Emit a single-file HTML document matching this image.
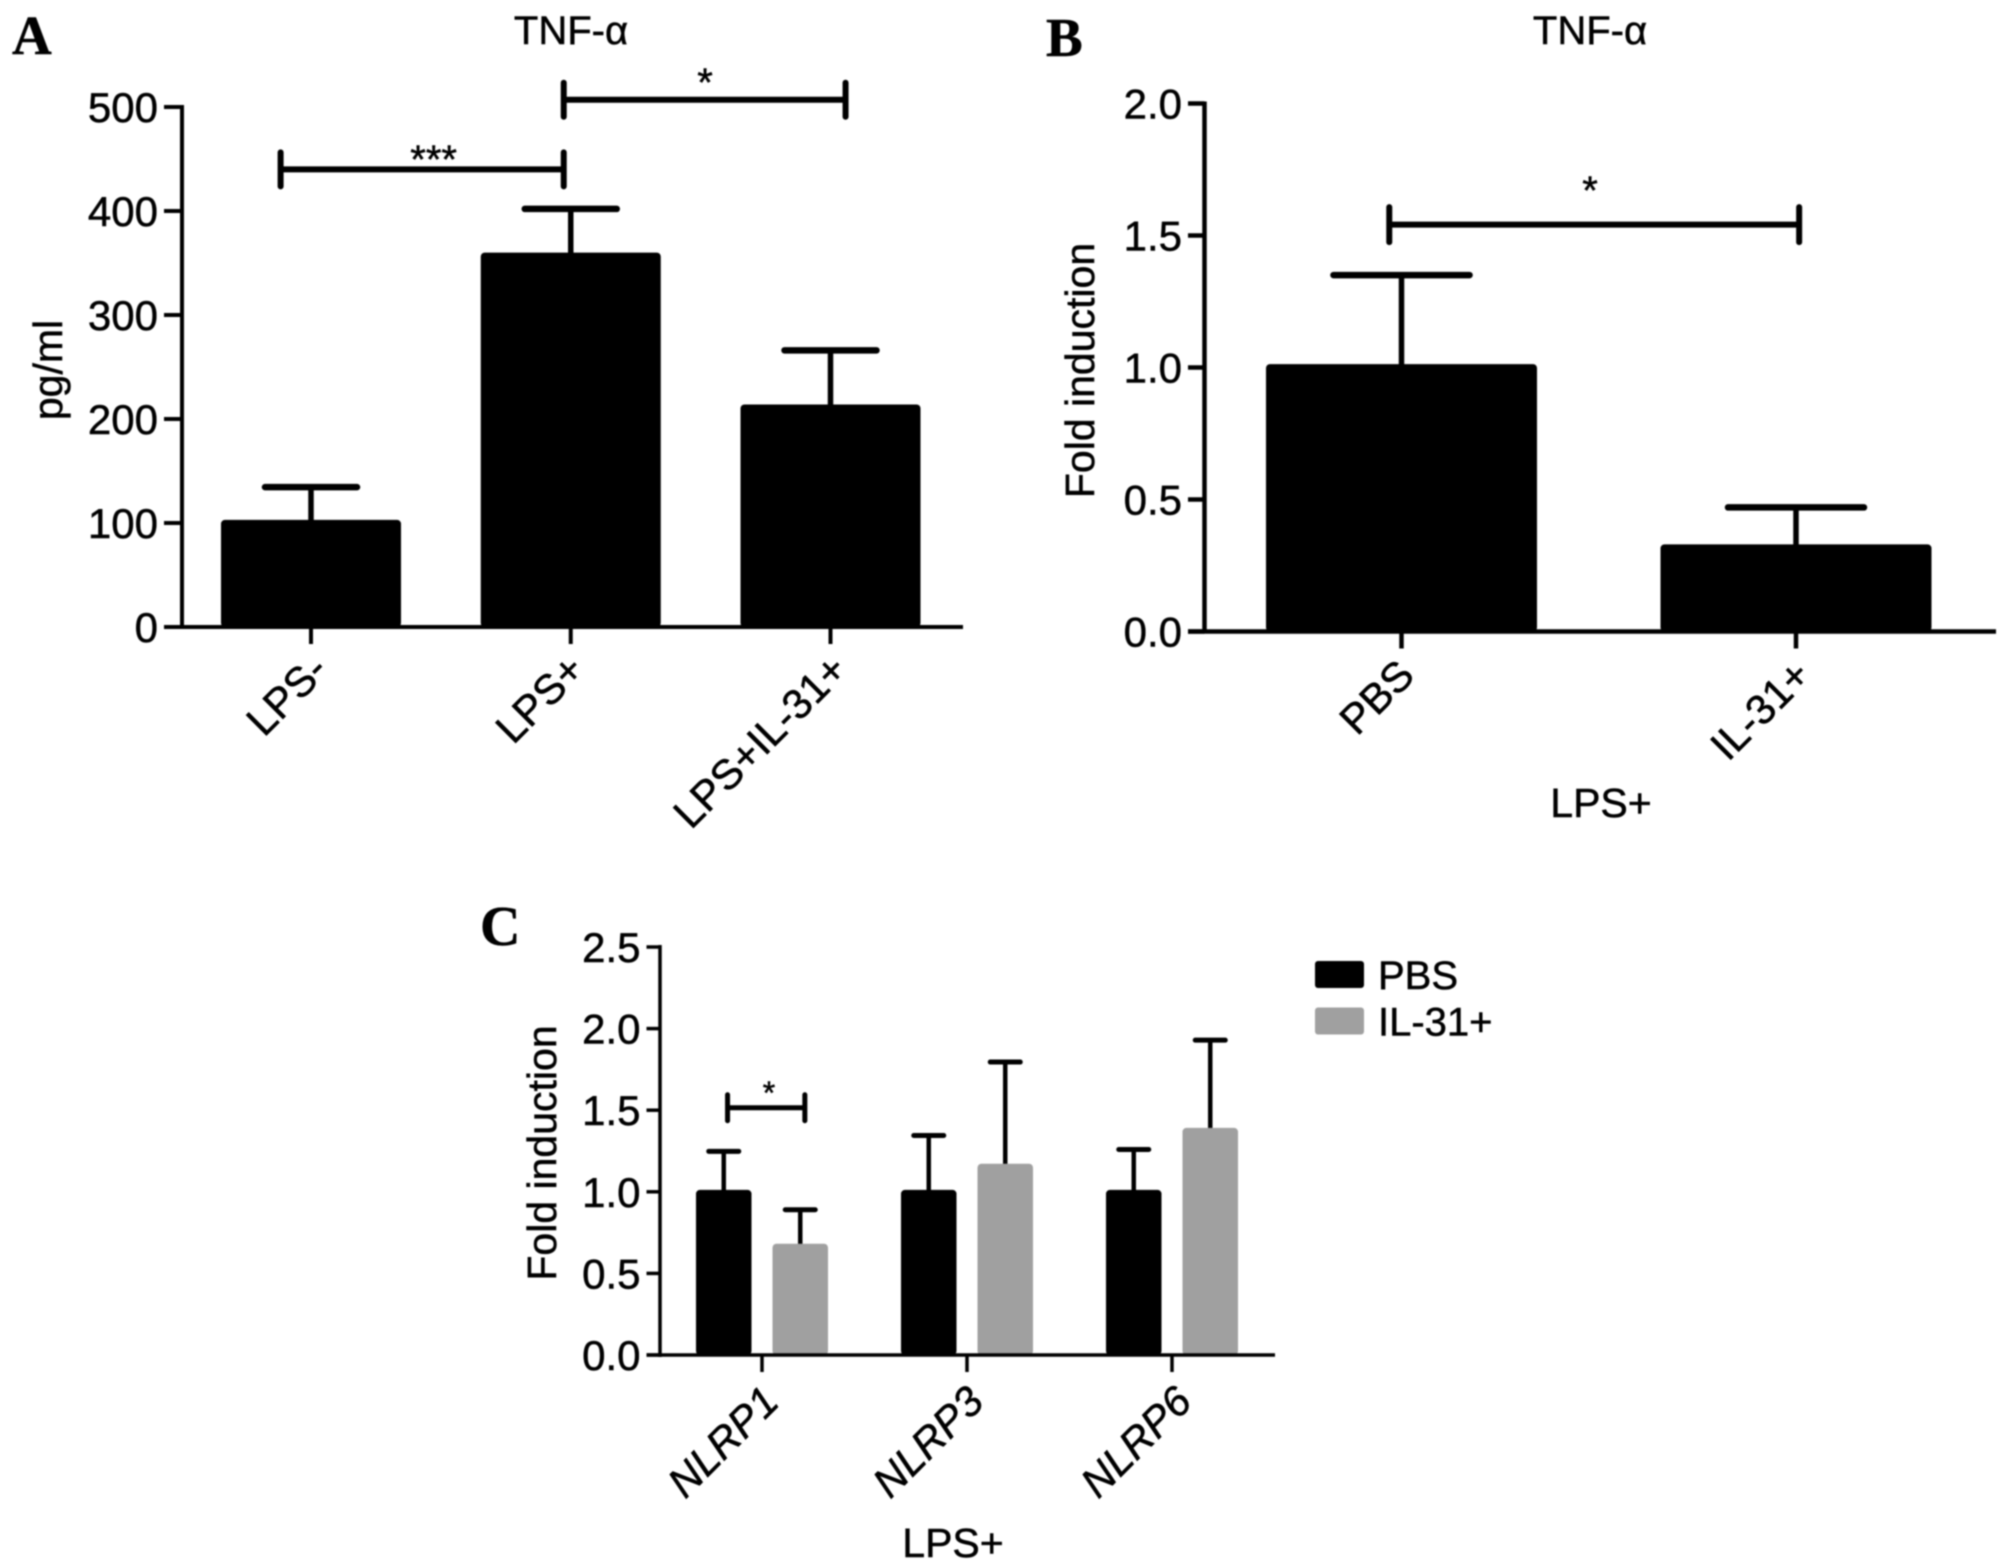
<!DOCTYPE html>
<html lang="en">
<head>
<meta charset="utf-8">
<title>TNF-α and NLRP fold induction bar charts</title>
<style>
html,body{margin:0;padding:0;background:#fff;}
body{width:2008px;height:1568px;overflow:hidden;}
svg{display:block;font-family:"Liberation Sans",sans-serif;filter:blur(0.7px);}
text{fill:#000;stroke:#000;stroke-width:0.5px;}
</style>
</head>
<body>
<svg id="figure" width="2008" height="1568" viewBox="0 0 2008 1568" xmlns="http://www.w3.org/2000/svg"></svg>
<script>
// Panel A data
const aCategories = ['LPS-', 'LPS+', 'LPS+IL-31+'];
const aMeans = [103, 360, 214];
const aErrors = [134.5, 402, 266];
const aTicks = [0, 100, 200, 300, 400, 500];
const aTickLabels = ['0', '100', '200', '300', '400', '500'];
const aBrackets = [[-0.117, 0.973, 440, 0.472, 459, '***'], [0.973, 2.058, 507, 1.517, 533, '*']];
// Panel B data
const bCategories = ['PBS', 'IL-31+'];
const bMeans = [1.013, 0.33];
const bErrors = [1.35, 0.47];
const bTicks = [0, 0.5, 1, 1.5, 2];
const bTickLabels = ['0.0', '0.5', '1.0', '1.5', '2.0'];
const bBrackets = [[-0.031, 1.008, 1.541, 0.478, 1.707, '*']];
// Panel C data
const cCategories = ['NLRP1', 'NLRP3', 'NLRP6'];
const cPbsMeans = [1.012, 1.012, 1.012];
const cPbsErrors = [1.248, 1.345, 1.259];
const cIl31Means = [0.682, 1.172, 1.392];
const cIl31Errors = [0.89, 1.795, 1.929];
const cTicks = [0, 0.5, 1, 1.5, 2, 2.5];
const cTickLabels = ['0.0', '0.5', '1.0', '1.5', '2.0', '2.5'];
const cBrackets = [[-0.168, 0.209, 1.515, 0.034, 1.653, '*']];
const legendLabels = ['PBS', 'IL-31+'];

const NS = 'http://www.w3.org/2000/svg';
const root = document.getElementById('figure');

function make(tag, attrs, parent) {
  const e = document.createElementNS(NS, tag);
  for (const k in attrs) e.setAttribute(k, attrs[k]);
  (parent || root).appendChild(e);
  return e;
}
function line(parent, x1, y1, x2, y2, w, name, cap) {
  const l = make('line', {x1: x1, y1: y1, x2: x2, y2: y2, stroke: '#000', 'stroke-width': w, 'stroke-linecap': cap || 'butt'}, parent);
  
  
  return l;
}
function label(parent, x, y, str, size, name, extra) {
  const t = make('text', Object.assign({x: x, y: y, 'font-size': size}, extra || {}), parent);
  t.textContent = str;
  
  
  return t;
}
function group(name) {
  const g = make('g', {});
  
  
  return g;
}

function drawAxes(g, p, ticks, tickLabels, categories, yScale, xScale) {
  line(g, p.axisX, yScale(ticks[ticks.length - 1]) - 2, p.axisX, p.y0 + 2, p.axisW, 'y-axis');
  line(g, p.tickLeft, p.y0, p.right, p.y0, p.axisW, 'x-axis');
  ticks.forEach(function (v, i) {
    line(g, p.tickLeft, yScale(v), p.axisX, yScale(v), p.axisW, 'y-tick-' + tickLabels[i]);
    label(g, p.tickLeft - 6, yScale(v) + 15, tickLabels[i], 42, 'y-tick-label-' + tickLabels[i], {'text-anchor': 'end'});
  });
  categories.forEach(function (c, i) {
    const x = xScale(i);
    line(g, x, p.y0, x, p.y0 + 17, p.axisW, 'x-tick-' + c);
    const nudge = p.labelNudge ? p.labelNudge[i] : 0;
    const ax = x + p.labelDx + nudge, ay = p.y0 + p.labelDy;
    const extra = {'text-anchor': 'end', transform: 'rotate(-45 ' + ax + ' ' + ay + ')'};
    if (p.italic) extra['font-style'] = 'italic';
    label(g, ax, ay, c, 42, 'x-tick-label-' + c, extra);
  });
}
function drawBar(g, cx, halfW, mean, err, yScale, y0, fill, capHalf, errW, capW, name) {
  const top = yScale(mean);
  line(g, cx, yScale(err), cx, top + 2, errW, name + '-error-bar');
  line(g, cx - capHalf, yScale(err), cx + capHalf, yScale(err), capW, name + '-error-cap', 'round');
  const r = make('rect', {x: cx - halfW, y: top, width: halfW * 2, height: y0 - top, fill: fill, rx: 4}, g);
  
  
}
function drawBrackets(g, brackets, xFrac, yScale, halfH, w, starSize) {
  brackets.forEach(function (b, i) {
    const x1 = xFrac(b[0]), x2 = xFrac(b[1]), y = yScale(b[2]);
    line(g, x1, y, x2, y, w, 'significance-bracket-' + (i + 1));
    line(g, x1, y - halfH, x1, y + halfH, w, 'significance-bracket-' + (i + 1) + '-left', 'round');
    line(g, x2, y - halfH, x2, y + halfH, w, 'significance-bracket-' + (i + 1) + '-right', 'round');
    label(g, xFrac(b[3]), yScale(b[4]) + starSize * 0.58, b[5], starSize, 'significance-stars-' + (i + 1), {'text-anchor': 'middle'});
  });
}

/* Panel A */
(function () {
  const g = group('panel-a');
  const p = {axisX: 182, tickLeft: 164, right: 963, y0: 627, top: 107, axisW: 4, labelDx: 19, labelDy: 45, labelNudge: [0, -3, 0]};
  const y = function (v) { return p.y0 - v / 500 * (p.y0 - p.top); };
  const x = function (i) { return 311 + i * 259.75; };
  label(g, 12, 54, 'A', 55, 'panel-label-a', {'font-family': '"Liberation Serif",serif', 'font-weight': 'bold'});
  label(g, 571, 44, 'TNF-α', 40, 'chart-title', {'text-anchor': 'middle'});
  label(g, 0, 0, 'pg/ml', 41, 'y-axis-title', {'text-anchor': 'middle', transform: 'translate(62 370) rotate(-90)'});
  aCategories.forEach(function (c, i) {
    drawBar(g, x(i), 90, aMeans[i], aErrors[i], y, p.y0, '#000', 46, 5.5, 6.5, 'bar-' + c);
  });
  drawAxes(g, p, aTicks, aTickLabels, aCategories, y, x);
  drawBrackets(g, aBrackets, x, y, 17, 6, 40);
})();

/* Panel B */
(function () {
  const g = group('panel-b');
  const p = {axisX: 1204.5, tickLeft: 1188, right: 1996, y0: 631.5, top: 103.5, axisW: 4.5, labelDx: 17, labelDy: 46, labelNudge: [-2, 0]};
  const y = function (v) { return p.y0 - v / 2 * (p.y0 - p.top); };
  const x = function (i) { return 1401.5 + i * 394.5; };
  label(g, 1046, 56, 'B', 55, 'panel-label-b', {'font-family': '"Liberation Serif",serif', 'font-weight': 'bold'});
  label(g, 1590, 44, 'TNF-α', 40, 'chart-title', {'text-anchor': 'middle'});
  label(g, 0, 0, 'Fold induction', 41, 'y-axis-title', {'text-anchor': 'middle', transform: 'translate(1094 370.5) rotate(-90)'});
  bCategories.forEach(function (c, i) {
    drawBar(g, x(i), 135.5, bMeans[i], bErrors[i], y, p.y0, '#000', 68, 5.5, 6.5, 'bar-' + c);
  });
  drawAxes(g, p, bTicks, bTickLabels, bCategories, y, x);
  drawBrackets(g, bBrackets, x, y, 17.5, 6, 40);
  label(g, 1601, 817, 'LPS+', 41, 'x-axis-title', {'text-anchor': 'middle'});
})();

/* Panel C */
(function () {
  const g = group('panel-c');
  const p = {axisX: 660, tickLeft: 646.5, right: 1275, y0: 1355, top: 947, axisW: 3.5, labelDx: 19, labelDy: 49, italic: true, labelNudge: [0, 0, 3]};
  const y = function (v) { return p.y0 - v / 2.5 * (p.y0 - p.top); };
  const x = function (i) { return 762 + i * 205; };
  label(g, 480, 945, 'C', 56, 'panel-label-c', {'font-family': '"Liberation Serif",serif', 'font-weight': 'bold'});
  label(g, 0, 0, 'Fold induction', 41, 'y-axis-title', {'text-anchor': 'middle', transform: 'translate(556 1153) rotate(-90)'});
  cCategories.forEach(function (c, i) {
    drawBar(g, x(i) - 38.25, 27.75, cPbsMeans[i], cPbsErrors[i], y, p.y0, '#000', 15, 4.5, 5, 'bar-pbs-' + c);
    drawBar(g, x(i) + 38.25, 27.75, cIl31Means[i], cIl31Errors[i], y, p.y0, '#a0a0a0', 15, 4.5, 5, 'bar-il31-' + c);
  });
  drawAxes(g, p, cTicks, cTickLabels, cCategories, y, x);
  drawBrackets(g, cBrackets, x, y, 13, 5, 32);
  label(g, 953, 1557, 'LPS+', 41, 'x-axis-title', {'text-anchor': 'middle'});

  const legendFill = ['#000', '#a0a0a0'];
  const lg = make('g', {}, g);
  
  
  legendLabels.forEach(function (t, i) {
    const top = 961 + i * 46.5;
    const s = make('rect', {x: 1315, y: top, width: 49, height: 27, rx: 3, fill: legendFill[i]}, lg);
    
    
    label(lg, 1378, top + 28, t, 40, 'legend-entry-' + t);
  });
})();
</script>
</body>
</html>
